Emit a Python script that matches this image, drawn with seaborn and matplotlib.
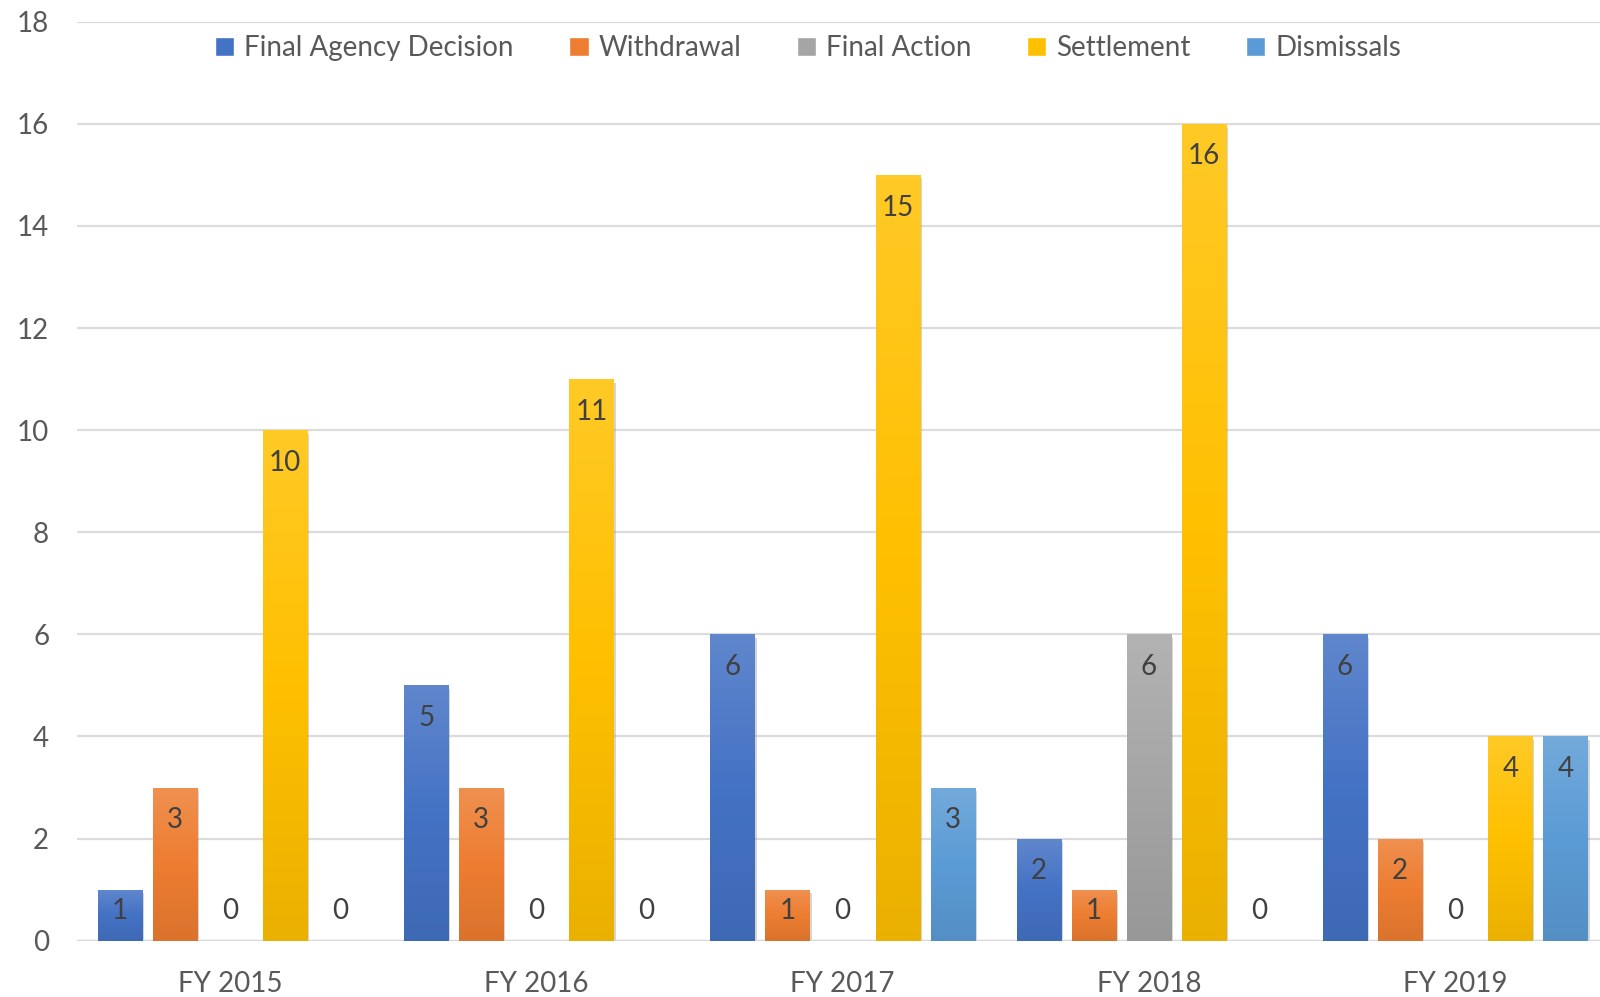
import numpy as np
import pandas as pd
import matplotlib
matplotlib.use("Agg")
import matplotlib.pyplot as plt
import matplotlib.colors as mcolors
import matplotlib.patheffects as pe
import seaborn as sns

years = ["FY 2015", "FY 2016", "FY 2017", "FY 2018", "FY 2019"]
series = ["Final Agency Decision", "Withdrawal", "Final Action", "Settlement", "Dismissals"]
final_agency_decision = [1, 5, 6, 2, 6]
withdrawal = [3, 3, 1, 1, 2]
final_action = [0, 0, 0, 6, 0]
settlement = [10, 11, 15, 16, 4]
dismissals = [0, 0, 3, 0, 4]
yticks = list(range(0, 19, 2))

colors = ["#4472C4", "#ED7D31", "#A5A5A5", "#FFC000", "#5B9BD5"]

values = [final_agency_decision, withdrawal, final_action, settlement, dismissals]
rows = []
for s, vals in zip(series, values):
    for y, v in zip(years, vals):
        rows.append({"Year": y, "Type": s, "Count": v})
df = pd.DataFrame(rows)

sns.set_theme(style="white")
plt.rcParams["font.family"] = ["Lato", "DejaVu Sans"]

FS = 20

fig = plt.figure(figsize=(16, 9.97), dpi=100)
ax = fig.add_axes([77 / 1600, (997 - 940.7) / 997, 1523 / 1600, (940.7 - 21.7) / 997])

sns.barplot(data=df, x="Year", y="Count", hue="Type", order=years, hue_order=series,
            palette=colors, width=0.9, gap=0.2, ax=ax, errorbar=None, saturation=1,
            legend=True)

ax.set_ylim(0, 18)
ax.set_xlim(-0.5, 4.473)
ax.set_yticks(yticks)
for sp in ax.spines.values():
    sp.set_visible(False)
ax.grid(axis="y", color="#DCDCDC", linewidth=1.6)
ax.set_axisbelow(True)
ax.axhline(0, color="#D9D9D9", linewidth=2.5, zorder=1)
ax.tick_params(axis="y", length=0, pad=20, labelsize=FS, labelcolor="#595959")
ax.tick_params(axis="x", length=0, pad=22, labelsize=FS, labelcolor="#595959")
ax.set_xlabel("")
ax.set_ylabel("")


def shade(c, f):
    r, g, b = mcolors.to_rgb(c)
    if f >= 0:
        return (r + (1 - r) * f, g + (1 - g) * f, b + (1 - b) * f)
    return (r * (1 + f), g * (1 + f), b * (1 + f))


for container, col, vals in zip(ax.containers, colors, values):
    cmap = mcolors.LinearSegmentedColormap.from_list(
        "g", [shade(col, -0.08), shade(col, 0.0), shade(col, 0.15)])
    for bar, v in zip(container, vals):
        bar.set_edgecolor("none")
        bar.set_path_effects([pe.SimplePatchShadow(offset=(1.5, -2.5), alpha=0.3, shadow_rgbFace="#777777"), pe.Normal()])
        if v > 0:
            x0 = bar.get_x()
            w = bar.get_width()
            grad = np.linspace(0, 1, 256).reshape(-1, 1)
            im = ax.imshow(grad, cmap=cmap, origin="lower", aspect="auto",
                           extent=(x0, x0 + w, 0, v), zorder=bar.get_zorder() + 0.1)
            im.set_clip_path(bar)
        ax.text(bar.get_x() + bar.get_width() / 2, max(v - 0.64, 0.58), f"{v}",
                ha="center", va="center", fontsize=FS, color="#404040", zorder=5)

ax.set_xlim(-0.5, 4.473)
ax.set_ylim(0, 18)

handles, labels = ax.get_legend_handles_labels()
ax.legend(handles, labels, loc="center", bbox_to_anchor=(808 / 1600, 1 - 48 / 997),
          bbox_transform=fig.transFigure, ncol=5, frameon=False, fontsize=FS,
          labelcolor="#595959", handlelength=0.7, handleheight=0.7,
          handletextpad=0.35, columnspacing=2.0)

fig.savefig("out.png", dpi=100)
